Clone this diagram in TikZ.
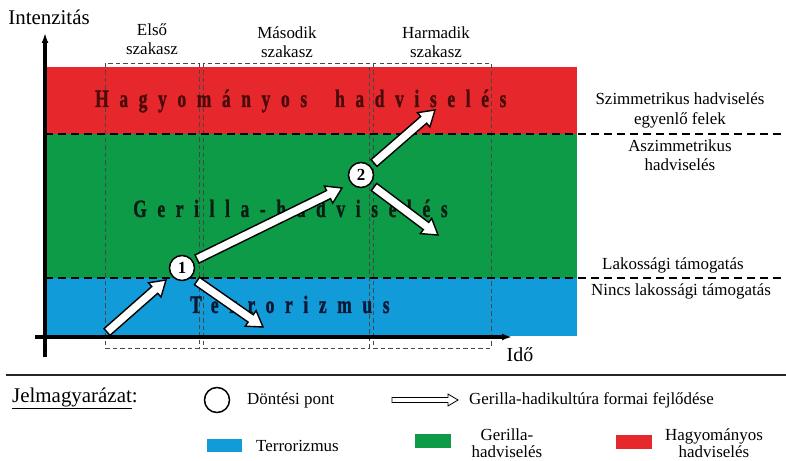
\documentclass[tikz,border=0pt]{standalone}
\usepackage{fontspec}
\setmainfont{Liberation Serif}
\usepackage{graphicx}
\usetikzlibrary{calc,arrows.meta}
\definecolor{cred}{HTML}{E6282C}
\definecolor{cgreen}{HTML}{0D9B48}
\definecolor{cblue}{HTML}{129BD9}
\definecolor{tred}{HTML}{4A0B0B}
\definecolor{tgreen}{HTML}{0A1E12}
\definecolor{tblue}{HTML}{0B1733}
% fat arrow: style, from, to, half shaft, half head, head length
\newcommand\fatarrow[6]{%
  \coordinate (fa-n) at ($(#3)!#6!(#2)$);
  \filldraw[#1] ($(#2)!#4!90:(#3)$) -- ($(fa-n)!#4!90:(#3)$) -- ($(fa-n)!#5!90:(#3)$) -- (#3)
    -- ($(fa-n)!#5!-90:(#3)$) -- ($(fa-n)!#4!-90:(#3)$) -- ($(#2)!#4!-90:(#3)$) -- cycle;
}
\newcommand\spacedtitle[1]{\scalebox{0.7}[1]{\fontsize{25}{28}\selectfont\bfseries\addfontfeature{LetterSpace=61,FakeBold=1.5}#1}}
\begin{document}
\begin{tikzpicture}[x=1bp,y=-1bp,
  lbl/.style={font=\fontsize{17}{19}\selectfont, align=center, inner sep=0},
  phase/.style={draw=black!72, line width=0.9bp, dash pattern=on 4.5bp off 3bp},
  bound/.style={draw=black, line width=2.4bp, dash pattern=on 8bp off 5bp},
  axis/.style={line width=3.2bp, -{Latex[length=10bp,width=7bp]}},
  title/.style={inner sep=0, anchor=base west},
  fat/.style={fill=white, draw=black, line width=1.4bp, line join=miter},
  thin/.style={fill=white, draw=black, line width=0.8bp, line join=miter},
  dpoint/.style={circle, draw=black, fill=white, line width=1.5bp, minimum size=25bp, inner sep=0,
    font=\fontsize{17}{17}\selectfont\bfseries}
]
\useasboundingbox (0,0) rectangle (786,461);
% bands
\fill[cred] (45,67) rectangle (577,134);
\fill[cgreen] (45,134) rectangle (577,278);
\fill[cblue] (45,278) rectangle (577,336);
% phase boxes
\draw[phase] (105,63) rectangle (199,348);
\draw[phase] (203,63) rectangle (369,348);
\draw[phase] (373,63) rectangle (491,348);
% boundaries
\draw[bound] (45,134) -- (786,134);
\draw[bound] (45,278) -- (786,278);
% titles
\node[title, text=tred] (thagy) at (95,107) {\spacedtitle{Hagyományos\hspace{40bp}hadviselés}};
\node[title, text=tgreen] (tgeril) at (133,217) {\spacedtitle{Gerilla-hadviselés}};
\node[title, text=tblue] (tterr) at (190,313) {\spacedtitle{Terrorizmus}};
% decision points
\node[dpoint] (c1) at (182,268) {1};
\node[dpoint] (c2) at (361,175) {2};
% arrow ends
\coordinate (a1s) at (107,332);
\coordinate (a1e) at (166,280);
\coordinate (a2s) at (197,259);
\coordinate (a2e) at (342,188);
\coordinate (a3s) at (197,281);
\coordinate (a3e) at (263,327);
\coordinate (a4s) at (374,163);
\coordinate (a4e) at (435,110);
\coordinate (a5s) at (374,187);
\coordinate (a5e) at (438,235);
\fatarrow{fat}{a1s}{a1e}{4.5bp}{9.5bp}{15bp}
\fatarrow{fat}{a2s}{a2e}{4.5bp}{9.5bp}{15bp}
\fatarrow{fat}{a3s}{a3e}{4.5bp}{9.5bp}{15bp}
\fatarrow{fat}{a4s}{a4e}{4.5bp}{9.5bp}{15bp}
\fatarrow{fat}{a5s}{a5e}{4.5bp}{9.5bp}{15bp}
% axes
\draw[axis] (45,357) -- (45,33);
\draw[axis] (35,337) -- (512,337);
\node[lbl, font=\fontsize{21}{24}\selectfont] (intenz) at (49,17) {Intenzitás};
\node[lbl, font=\fontsize{20}{24}\selectfont] (ido) at (520,355) {Idő};
% phase labels
\node[lbl] (ph1) at (152,39) {Első\\szakasz};
\node[lbl] (ph2) at (287,42.5) {Második\\szakasz};
\node[lbl] (ph3) at (436,42.5) {Harmadik\\szakasz};
% right labels
\node[lbl, font=\fontsize{17}{20}\selectfont] (szimm) at (680,110) {Szimmetrikus hadviselés\\egyenlő felek};
\node[lbl] (aszimm) at (680,155.5) {Aszimmetrikus\\hadviselés};
\node[lbl] (lak) at (673,265) {Lakossági támogatás};
\node[lbl] (nincs) at (681,291) {Nincs lakossági támogatás};
% legend
\draw[line width=1.6bp, black!85] (6,375) -- (786,375);
\node[lbl, font=\fontsize{21}{24}\selectfont, anchor=west] (jel) at (12,398) {\underline{Jelmagyarázat}:};
\node[circle, draw=black, line width=1.5bp, minimum size=25bp, inner sep=0] (lc) at (217,400) {};
\node[lbl, anchor=west] (ldp) at (247,400) {Döntési pont};
\coordinate (las) at (392,400);
\coordinate (lae) at (458,400);
\fatarrow{thin}{las}{lae}{2.5bp}{6bp}{10bp}
\node[lbl, anchor=west] (lar) at (469,400) {Gerilla-hadikultúra formai fejlődése};
\fill[cblue] (207,439) rectangle (242,452);
\node[lbl, anchor=west] (lterr) at (256,445.5) {Terrorizmus};
\fill[cgreen] (415,434) rectangle (451,448);
\node[lbl, font=\fontsize{17}{17}\selectfont] (lger) at (507,443) {Gerilla-\\hadviselés};
\fill[cred] (616,435) rectangle (652,449);
\node[lbl, font=\fontsize{17}{17}\selectfont] (lhagy) at (714,443.5) {Hagyományos\\hadviselés};
\end{tikzpicture}
\end{document}
